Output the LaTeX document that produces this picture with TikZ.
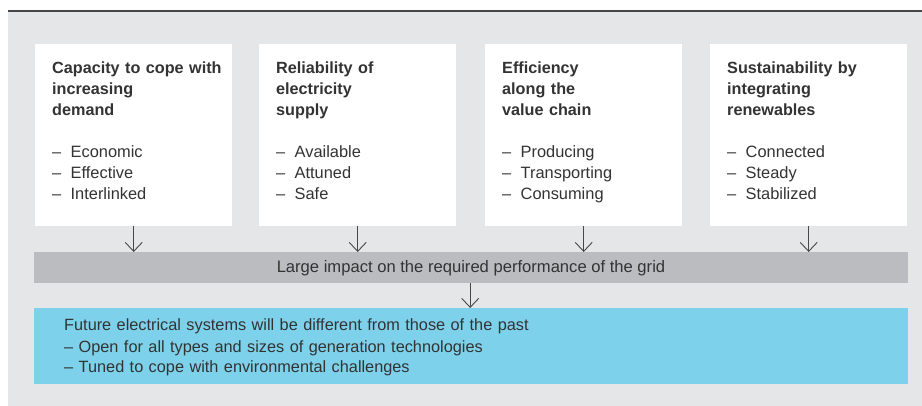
\documentclass[tikz,border=0pt]{standalone}
\usepackage{fontspec}
\setmainfont{Liberation Sans}
\usetikzlibrary{arrows.meta}
\definecolor{panel}{HTML}{E5E6E8}
\definecolor{barfill}{HTML}{BBBCC0}
\definecolor{sky}{HTML}{7DD1EA}
\definecolor{ink}{HTML}{333333}
\definecolor{rule}{HTML}{474747}
% dash of a bullet list inside the cards
\newcommand{\itm}{\makebox[18.5pt][l]{–}}
\newcommand{\hd}[1]{{\fontsize{16.2}{21}\selectfont\bfseries #1}}
\begin{document}
\begin{tikzpicture}[x=1pt,y=-1pt,
  card/.style={fill=white, anchor=north west, minimum width=197pt,
    minimum height=182pt, inner sep=0pt},
  cardtext/.style={anchor=base west, text width=178pt, align=left,
    inner sep=0pt, text=ink, font=\fontsize{16.4}{21}\selectfont},
  flow/.style={draw=rule, line width=0.9pt,
    -{Straight Barb[length=9pt,width=17pt]}},
  band/.style={anchor=north west, inner sep=0pt, minimum width=874pt}
]
\useasboundingbox (0,0) rectangle (922,406);
\fill[panel] (8,11) rectangle (922,406);
\draw[rule, line width=1.3pt] (8,11) -- (922,11);

% four cards
\node[card] (c1) at (35,44) {};
\node[card] (c2) at (259,44) {};
\node[card] (c3) at (485,44) {};
\node[card] (c4) at (710,44) {};

\node[cardtext] (t1) at (52,74) {\hd{Capacity to cope with\\increasing\\demand}\\ \mbox{}\\
  \itm Economic\\ \itm Effective\\ \itm Interlinked};
\node[cardtext] (t2) at (276,74) {\hd{Reliability of\\electricity\\supply}\\ \mbox{}\\
  \itm Available\\ \itm Attuned\\ \itm Safe};
\node[cardtext] (t3) at (502,74) {\hd{Efficiency\\along the\\value chain}\\ \mbox{}\\
  \itm Producing\\ \itm Transporting\\ \itm Consuming};
\node[cardtext] (t4) at (727,74) {\hd{Sustainability by\\integrating\\renewables}\\ \mbox{}\\
  \itm Connected\\ \itm Steady\\ \itm Stabilized};

% grey impact bar
\node[band, fill=barfill, minimum height=31pt] (bar) at (34,252) {};
\node[anchor=base, inner sep=0pt, text=ink, font=\fontsize{16.6}{21}\selectfont]
  (bartext) at (471,272.3) {Large impact on the required performance of the grid};

% blue conclusion box
\node[band, fill=sky, minimum height=76pt] (future) at (34,308) {};
\node[anchor=base west, inner sep=0pt, text width=820pt, align=left, text=ink,
  font=\fontsize{16.3}{21}\selectfont] (ftext) at (64,331)
  {Future electrical systems will be different from those of the past\\
   – Open for all types and sizes of generation technologies\\
   – Tuned to cope with environmental challenges};

% connectors
\foreach \c in {c1,c2,c3,c4}
  \draw[flow] (\c.south) -- (\c.south |- bar.north);
\draw[flow] ([xshift=-1pt]bar.south) -- ([xshift=-1pt]future.north);
\end{tikzpicture}
\end{document}
